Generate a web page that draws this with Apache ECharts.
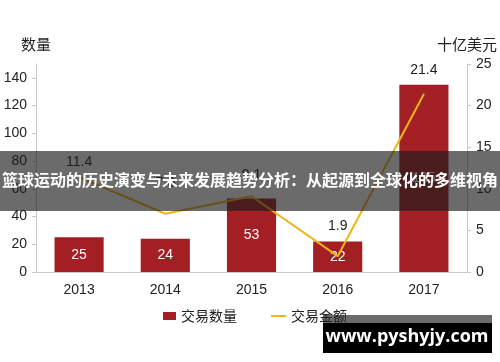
<!DOCTYPE html>
<html><head><meta charset="utf-8">
<script src="https://cdn.jsdelivr.net/npm/echarts@6/dist/echarts.min.js"></script>
<style>html,body{margin:0;padding:0;background:#fff}#c{width:500px;height:362px}</style>
</head><body><div id="c"></div>
<script>
const years = ['2013', '2014', '2015', '2016', '2017'];
const dealCount = [25, 24, 53, 22, 135];
const dealValue = [11.4, 7.0, 9.1, 1.9, 21.4];
const leftTicks = [0, 20, 40, 60, 80, 100, 120, 140];
const rightTicks = [0, 5, 10, 15, 20, 25];
const lineLabelDist = [8, 23, 14, 23, 16];

const font = '"Liberation Sans", "Noto Sans CJK SC", sans-serif';
const cjk = '"Noto Sans CJK SC", sans-serif';
const chart = echarts.init(document.getElementById('c'), null, {renderer: 'canvas'});
chart.setOption({
  animation: false,
  grid: {left: 36, right: 29, top: 64, bottom: 90},
  legend: [
    {left: 158, top: 304, itemWidth: 13, itemHeight: 8, data: [{name: '交易数量', icon: 'rect'}],
     textStyle: {fontFamily: cjk, fontSize: 14, color: '#222'}},
    {left: 266, top: 304, itemWidth: 15, itemHeight: 2, data: [{name: '交易金额', icon: 'rect', itemStyle: {color: '#f2b418'}}],
     textStyle: {fontFamily: cjk, fontSize: 14, color: '#222'}}
  ],
  xAxis: {
    type: 'category', data: years,
    axisLine: {lineStyle: {color: '#c8c8c8'}},
    axisTick: {show: false},
    axisLabel: {fontFamily: font, fontSize: 14, color: '#222', margin: 11}
  },
  yAxis: [
    {type: 'value', min: 0, max: 150, interval: 20, position: 'left',
     name: '数量', nameGap: 12, nameTextStyle: {fontFamily: cjk, fontSize: 15, color: '#222', align: 'center'},
     axisLine: {show: true, lineStyle: {color: '#c8c8c8'}},
     axisTick: {show: true, length: 4, customValues: leftTicks, lineStyle: {color: '#c8c8c8'}},
     axisLabel: {customValues: leftTicks, fontFamily: font, fontSize: 14, color: '#222', margin: 9},
     splitLine: {show: false}},
    {type: 'value', min: 0, max: 25, interval: 5, position: 'right',
     name: '十亿美元', nameGap: 12, nameTextStyle: {fontFamily: cjk, fontSize: 15, color: '#222', align: 'center'},
     axisLine: {show: true, lineStyle: {color: '#c8c8c8'}},
     axisTick: {show: true, length: 4, customValues: rightTicks, lineStyle: {color: '#c8c8c8'}},
     axisLabel: {customValues: rightTicks, fontFamily: font, fontSize: 14, color: '#222', margin: 9},
     splitLine: {show: false}}
  ],
  series: [
    {name: '交易数量', type: 'bar', yAxisIndex: 0, barWidth: '57%', data: dealCount,
     itemStyle: {color: '#a31f23'},
     label: {show: true, position: 'inside', color: '#fff', fontFamily: font, fontSize: 14}},
    {name: '交易金额', type: 'line', yAxisIndex: 1,
     data: dealValue.map((v, i) => ({value: v, label: {distance: lineLabelDist[i]}})),
     symbol: 'circle', symbolSize: 1, showSymbol: true,
     lineStyle: {color: '#f2b418', width: 2}, itemStyle: {color: '#f2b418'},
     label: {show: true, position: 'top', color: '#222', fontFamily: font, fontSize: 14,
             formatter: p => p.value.toFixed(1)}, z: 3}
  ],
  graphic: [
    {type: 'rect', z: 100, shape: {x: 0, y: 151, width: 500, height: 60}, style: {fill: 'rgba(28,28,28,0.65)'}},
    {type: 'text', z: 101, x: 250, y: 180, style: {text: '篮球运动的历史演变与未来发展趋势分析：从起源到全球化的多维视角',
      fill: '#fff', font: 'bold 16px "Noto Sans CJK SC", sans-serif', align: 'center', verticalAlign: 'middle'}},
    {type: 'rect', z: 100, shape: {x: 323, y: 315, width: 169, height: 9}, style: {fill: 'rgba(28,28,28,0.65)'}},
    {type: 'rect', z: 100, shape: {x: 323, y: 323, width: 169, height: 30}, style: {fill: '#000'}},
    {type: 'text', z: 101, x: 407, y: 337, style: {text: 'www.pyshyjy.com',
      fill: '#fff', font: 'bold 18px "Open Sans", "DejaVu Sans", sans-serif', align: 'center', verticalAlign: 'middle'}}
  ]
});
</script></body></html>
